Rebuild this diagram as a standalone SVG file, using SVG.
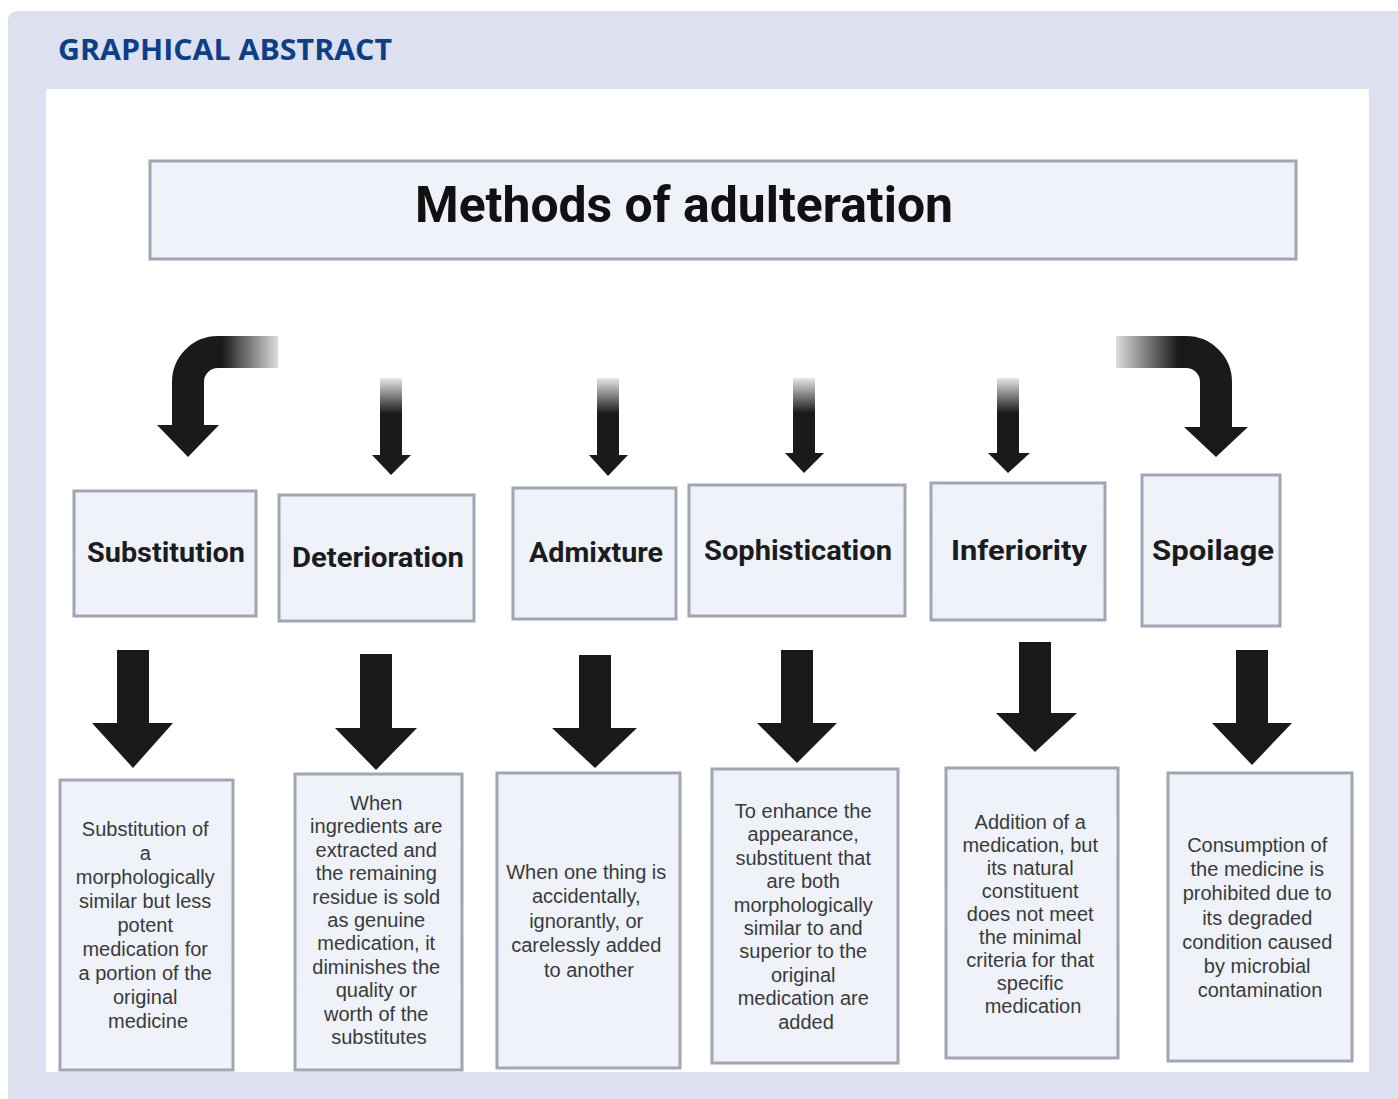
<svg xmlns="http://www.w3.org/2000/svg" width="1398" height="1099" viewBox="0 0 1398 1099">
<defs>
<style>
.box{fill:url(#boxg);stroke:#a2a6b4;stroke-width:3}
.lab{font-family:Roboto,"Liberation Sans",sans-serif;font-weight:700;font-size:28px;fill:#1c1c1c;text-anchor:middle}
.desc{font-family:"Liberation Sans",Arial,sans-serif;font-size:20px;fill:#3a3a3a;text-anchor:middle}
.arr{fill:#1a1a1a}
</style>
<linearGradient id="boxg" x1="0" y1="0" x2="0" y2="1">
<stop offset="0" stop-color="#eef2f9"/>
<stop offset="1" stop-color="#eff2f8"/>
</linearGradient>
<linearGradient id="vfade" x1="0" y1="0" x2="0" y2="1">
<stop offset="0" stop-color="#1a1a1a" stop-opacity="0.1"/>
<stop offset="0.45" stop-color="#1a1a1a" stop-opacity="1"/>
<stop offset="1" stop-color="#1a1a1a" stop-opacity="1"/>
</linearGradient>
<linearGradient id="lfade" gradientUnits="userSpaceOnUse" x1="278" y1="0" x2="222" y2="0">
<stop offset="0" stop-color="#1a1a1a" stop-opacity="0.15"/>
<stop offset="1" stop-color="#1a1a1a" stop-opacity="1"/>
</linearGradient>
<linearGradient id="rfade" gradientUnits="userSpaceOnUse" x1="1116" y1="0" x2="1178" y2="0">
<stop offset="0" stop-color="#1a1a1a" stop-opacity="0.15"/>
<stop offset="1" stop-color="#1a1a1a" stop-opacity="1"/>
</linearGradient>
</defs>

<rect x="0" y="0" width="1398" height="1099" fill="#ffffff"/>
<path d="M8 21 Q8 11 18 11 L1398 11 L1398 1099 L8 1099 Z" fill="#dde0ee"/>
<rect x="46" y="89" width="1323" height="983" fill="#ffffff"/>
<text x="58" y="60" font-family="'Open Sans','Liberation Sans',sans-serif" font-weight="700" font-size="29" fill="#0b3f8a" textLength="334" lengthAdjust="spacingAndGlyphs">GRAPHICAL ABSTRACT</text>

<g id="title">
<rect class="box" x="150" y="161" width="1146" height="98"/>
<text x="684" y="222" font-family="Roboto,'Liberation Sans',sans-serif" font-weight="700" font-size="50" fill="#111111" text-anchor="middle" textLength="538" lengthAdjust="spacingAndGlyphs">Methods of adulteration</text>
</g>

<g id="connectors">
<path d="M278 352 L218 352 A30 30 0 0 0 188 382 L188 427" fill="none" stroke="url(#lfade)" stroke-width="32"/>
<polygon class="arr" points="157,425 219,425 188,457"/>
<path d="M1116 352 L1186 352 A30 30 0 0 1 1216 382 L1216 429" fill="none" stroke="url(#rfade)" stroke-width="32"/>
<polygon class="arr" points="1184,427 1248,427 1216,457"/>

<rect x="380" y="378" width="22" height="79" fill="url(#vfade)"/>
<polygon class="arr" points="372,455 411,455 391,475"/>
<rect x="597" y="378" width="22" height="79" fill="url(#vfade)"/>
<polygon class="arr" points="589,455 628,455 608,476"/>
<rect x="793" y="378" width="22" height="77" fill="url(#vfade)"/>
<polygon class="arr" points="785,453 824,453 804,473"/>
<rect x="997" y="378" width="22" height="77" fill="url(#vfade)"/>
<polygon class="arr" points="988,453 1030,453 1008,473"/>

<rect class="arr" x="117" y="650" width="32" height="75"/>
<polygon class="arr" points="92,723 173,723 133,768"/>
<rect class="arr" x="360" y="654" width="32" height="76"/>
<polygon class="arr" points="335,728 417,728 376,770"/>
<rect class="arr" x="579" y="655" width="32" height="75"/>
<polygon class="arr" points="552,728 637,728 595,768"/>
<rect class="arr" x="781" y="650" width="32" height="75"/>
<polygon class="arr" points="757,723 837,723 797,763"/>
<rect class="arr" x="1019" y="642" width="32" height="73"/>
<polygon class="arr" points="996,713 1077,713 1035,752"/>
<rect class="arr" x="1236" y="650" width="32" height="75"/>
<polygon class="arr" points="1212,723 1292,723 1252,765"/>
</g>

<g id="substitution">
<rect class="box" x="74" y="491" width="182" height="125"/>
<text class="lab" x="166" y="562" textLength="158" lengthAdjust="spacingAndGlyphs">Substitution</text>
</g>
<g id="deterioration">
<rect class="box" x="279" y="495" width="195" height="126"/>
<text class="lab" x="378" y="567" textLength="172" lengthAdjust="spacingAndGlyphs">Deterioration</text>
</g>
<g id="admixture">
<rect class="box" x="513" y="488" width="163" height="131"/>
<text class="lab" x="596" y="562" textLength="134" lengthAdjust="spacingAndGlyphs">Admixture</text>
</g>
<g id="sophistication">
<rect class="box" x="689" y="485" width="216" height="131"/>
<text class="lab" x="798" y="560" textLength="188" lengthAdjust="spacingAndGlyphs">Sophistication</text>
</g>
<g id="inferiority">
<rect class="box" x="931" y="483" width="174" height="137"/>
<text class="lab" x="1019" y="560" textLength="136" lengthAdjust="spacingAndGlyphs">Inferiority</text>
</g>
<g id="spoilage">
<rect class="box" x="1142" y="475" width="138" height="151"/>
<text class="lab" x="1213" y="560" textLength="122" lengthAdjust="spacingAndGlyphs">Spoilage</text>
</g>

<g id="desc-substitution">
<rect class="box" x="60" y="780" width="173" height="290"/>
<text class="desc" x="148" y="836">
<tspan x="148" dy="0">Substitution of</tspan>
<tspan x="148" dy="24">a</tspan>
<tspan x="148" dy="24">morphologically</tspan>
<tspan x="148" dy="24">similar but less</tspan>
<tspan x="148" dy="24">potent</tspan>
<tspan x="148" dy="24">medication for</tspan>
<tspan x="148" dy="24">a portion of the</tspan>
<tspan x="148" dy="24">original</tspan>
<tspan x="148" dy="24">medicine</tspan>
</text>
</g>
<g id="desc-deterioration">
<rect class="box" x="295" y="774" width="167" height="296"/>
<text class="desc" x="379" y="810">
<tspan x="379" dy="0">When</tspan>
<tspan x="379" dy="23.4">ingredients are</tspan>
<tspan x="379" dy="23.4">extracted and</tspan>
<tspan x="379" dy="23.4">the remaining</tspan>
<tspan x="379" dy="23.4">residue is sold</tspan>
<tspan x="379" dy="23.4">as genuine</tspan>
<tspan x="379" dy="23.4">medication, it</tspan>
<tspan x="379" dy="23.4">diminishes the</tspan>
<tspan x="379" dy="23.4">quality or</tspan>
<tspan x="379" dy="23.4">worth of the</tspan>
<tspan x="379" dy="23.4">substitutes</tspan>
</text>
</g>
<g id="desc-admixture">
<rect class="box" x="497" y="773" width="183" height="295"/>
<text class="desc" x="589" y="879">
<tspan x="589" dy="0">When one thing is</tspan>
<tspan x="589" dy="24.4">accidentally,</tspan>
<tspan x="589" dy="24.4">ignorantly, or</tspan>
<tspan x="589" dy="24.4">carelessly added</tspan>
<tspan x="589" dy="24.4">to another</tspan>
</text>
</g>
<g id="desc-sophistication">
<rect class="box" x="712" y="769" width="186" height="294"/>
<text class="desc" x="806" y="818">
<tspan x="806" dy="0">To enhance the</tspan>
<tspan x="806" dy="23.4">appearance,</tspan>
<tspan x="806" dy="23.4">substituent that</tspan>
<tspan x="806" dy="23.4">are both</tspan>
<tspan x="806" dy="23.4">morphologically</tspan>
<tspan x="806" dy="23.4">similar to and</tspan>
<tspan x="806" dy="23.4">superior to the</tspan>
<tspan x="806" dy="23.4">original</tspan>
<tspan x="806" dy="23.4">medication are</tspan>
<tspan x="806" dy="23.4">added</tspan>
</text>
</g>
<g id="desc-inferiority">
<rect class="box" x="946" y="768" width="172" height="290"/>
<text class="desc" x="1033" y="829">
<tspan x="1033" dy="0">Addition of a</tspan>
<tspan x="1033" dy="23">medication, but</tspan>
<tspan x="1033" dy="23">its natural</tspan>
<tspan x="1033" dy="23">constituent</tspan>
<tspan x="1033" dy="23">does not meet</tspan>
<tspan x="1033" dy="23">the minimal</tspan>
<tspan x="1033" dy="23">criteria for that</tspan>
<tspan x="1033" dy="23">specific</tspan>
<tspan x="1033" dy="23">medication</tspan>
</text>
</g>
<g id="desc-spoilage">
<rect class="box" x="1168" y="773" width="184" height="288"/>
<text class="desc" x="1260" y="852">
<tspan x="1260" dy="0">Consumption of</tspan>
<tspan x="1260" dy="24.2">the medicine is</tspan>
<tspan x="1260" dy="24.2">prohibited due to</tspan>
<tspan x="1260" dy="24.2">its degraded</tspan>
<tspan x="1260" dy="24.2">condition caused</tspan>
<tspan x="1260" dy="24.2">by microbial</tspan>
<tspan x="1260" dy="24.2">contamination</tspan>
</text>
</g>
</svg>
